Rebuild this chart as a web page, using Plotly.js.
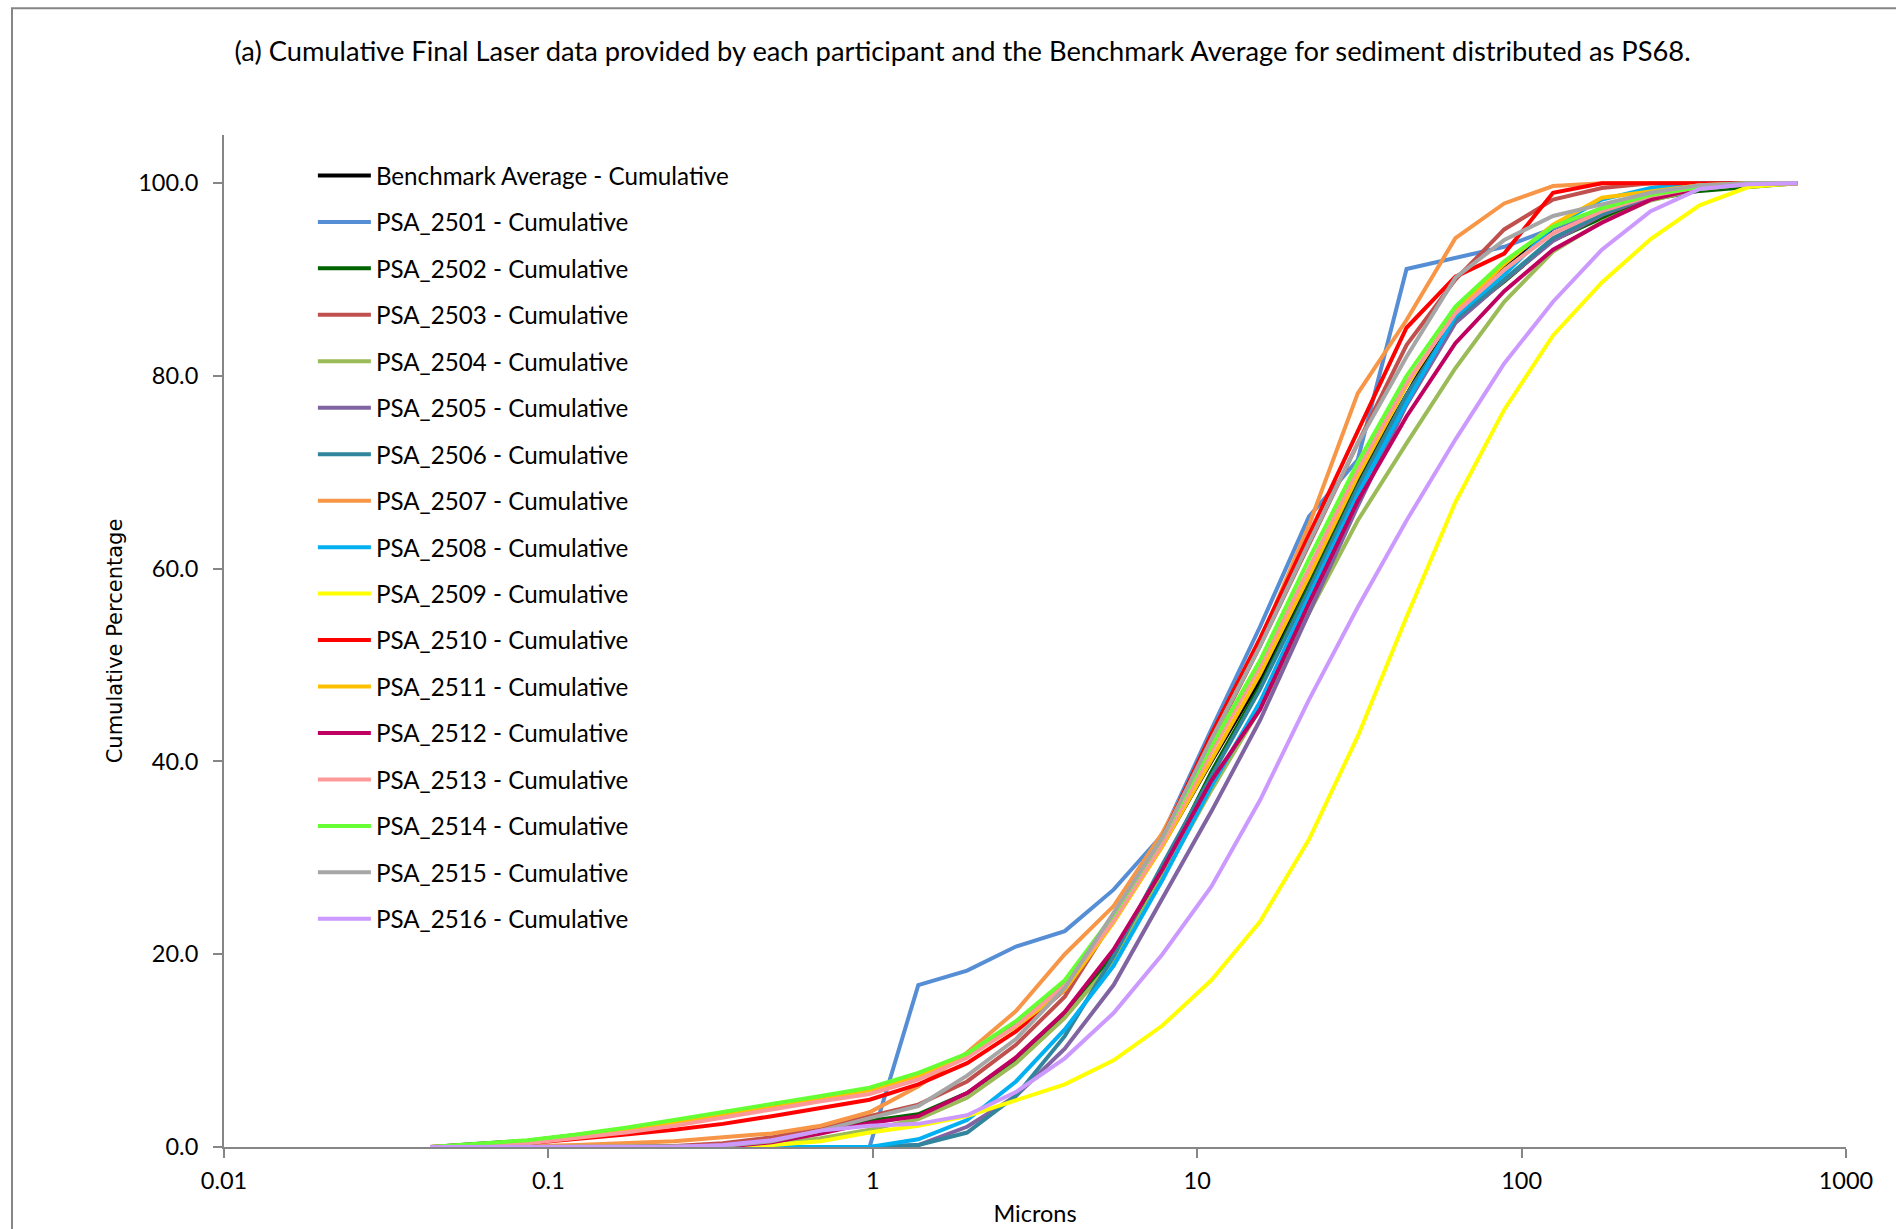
<!DOCTYPE html>
<html>
<head>
<meta charset="utf-8">
<script src="https://cdn.plot.ly/plotly-3.0.1.min.js"></script>
<style>
  html, body { margin: 0; padding: 0; background: #ffffff; }
  #chart { width: 1896px; height: 1229px; }
</style>
</head>
<body>
<div id="chart"></div>
<script>
// Particle size classes (microns), half-phi steps
const microns = [0.0432, 0.0610, 0.0863, 0.122, 0.173, 0.244, 0.345, 0.488, 0.691, 0.977,
                 1.381, 1.953, 2.762, 3.906, 5.524, 7.813, 11.05, 15.63, 22.10, 31.25,
                 44.19, 62.50, 88.39, 125.0, 176.8, 250.0, 353.6, 500.0, 707.1];

const seriesNames = ["Benchmark Average - Cumulative", "PSA_2501 - Cumulative", "PSA_2502 - Cumulative",
  "PSA_2503 - Cumulative", "PSA_2504 - Cumulative", "PSA_2505 - Cumulative", "PSA_2506 - Cumulative",
  "PSA_2507 - Cumulative", "PSA_2508 - Cumulative", "PSA_2509 - Cumulative", "PSA_2510 - Cumulative",
  "PSA_2511 - Cumulative", "PSA_2512 - Cumulative", "PSA_2513 - Cumulative", "PSA_2514 - Cumulative",
  "PSA_2515 - Cumulative", "PSA_2516 - Cumulative"];

const benchmark = [0, 0.3, 0.65, 1.25, 1.9, 2.7, 3.5, 4.4, 5.2, 6.0, 7.6, 9.6, 12.9, 17.0, 23.5, 31.3, 40.0, 48.5, 58.9, 69.3, 78.0, 86.9, 91.5, 95.3, 97.3, 98.6, 99.5, 99.9, 100];
const psa2501 = [0, 0, 0, 0, 0, 0, 0, 0, 0, 0, 16.8, 18.3, 20.8, 22.4, 26.7, 32.4, 43.3, 54.0, 65.4, 71.3, 91.1, 92.2, 93.4, 95.3, 97.4, 98.6, 99.4, 99.9, 100];
const psa2502 = [0, 0, 0, 0, 0, 0, 0.1, 0.6, 1.6, 2.7, 3.4, 5.6, 9.1, 13.6, 20.0, 28.8, 38.9, 47.8, 58.2, 68.6, 78.0, 85.8, 89.8, 94.1, 96.4, 98.3, 99.2, 99.6, 100];
const psa2503 = [0, 0, 0, 0, 0, 0.1, 0.4, 1.0, 2.0, 3.2, 4.4, 6.8, 10.6, 15.6, 23.6, 32.0, 42.0, 52.0, 62.5, 73.0, 83.2, 90.0, 95.2, 98.3, 99.5, 100, 100, 100, 100];
const psa2504 = [0, 0, 0, 0, 0, 0, 0, 0.3, 0.9, 1.8, 2.9, 5.1, 8.7, 13.4, 19.4, 28.0, 37.0, 45.5, 55.4, 65.0, 73.0, 80.8, 87.7, 92.9, 96.0, 98.2, 99.4, 99.9, 100];
const psa2505 = [0, 0, 0, 0, 0, 0, 0, 0, 0, 0, 0.2, 2.1, 5.3, 10.2, 16.8, 25.9, 34.8, 44.3, 55.5, 66.5, 77.0, 85.5, 89.9, 94.0, 96.7, 98.6, 99.6, 100, 100];
const psa2506 = [0, 0, 0, 0, 0, 0, 0, 0, 0, 0, 0.2, 1.5, 5.3, 11.5, 19.8, 29.3, 38.5, 47.5, 57.8, 68.4, 78.0, 85.9, 90.0, 94.3, 96.8, 98.8, 99.7, 100, 100];
const psa2507 = [0, 0, 0.07, 0.2, 0.4, 0.6, 1.0, 1.4, 2.2, 3.6, 6.3, 9.8, 14.1, 20.0, 25.0, 32.6, 42.0, 52.5, 64.5, 78.2, 85.8, 94.3, 97.9, 99.7, 100, 100, 100, 100, 100];
const psa2508 = [0, 0, 0, 0, 0, 0, 0, 0, 0, 0, 0.8, 2.8, 6.8, 12.2, 18.8, 27.7, 37.4, 46.2, 57.1, 67.7, 77.2, 86.2, 90.5, 95.5, 98.3, 99.5, 100, 100, 100];
const psa2509 = [0, 0, 0, 0, 0, 0, 0, 0.2, 0.6, 1.5, 2.2, 3.2, 4.8, 6.5, 9.0, 12.6, 17.3, 23.4, 31.9, 42.6, 55.0, 66.9, 76.5, 84.2, 89.7, 94.2, 97.7, 99.6, 100];
const psa2510 = [0, 0.1, 0.4, 0.8, 1.3, 1.8, 2.4, 3.2, 4.0, 4.9, 6.5, 8.7, 12.0, 16.3, 23.8, 32.1, 42.8, 52.8, 63.5, 74.2, 85.0, 90.3, 92.7, 99.0, 100, 100, 100, 100, 100];
const psa2511 = [0, 0.2, 0.5, 1.1, 1.7, 2.5, 3.3, 4.2, 5.0, 5.9, 7.4, 9.4, 12.5, 16.3, 23.3, 31.2, 40.2, 49.1, 59.2, 69.6, 79.0, 86.7, 91.6, 95.7, 98.5, 99.2, 99.8, 100, 100];
const psa2512 = [0, 0, 0, 0, 0, 0, 0, 0.5, 1.4, 2.5, 3.2, 5.6, 9.3, 14.0, 20.5, 28.8, 38.0, 45.4, 56.4, 67.0, 75.8, 83.4, 88.8, 93.1, 95.9, 98.3, 99.5, 100, 100];
const psa2513 = [0, 0.1, 0.4, 0.9, 1.5, 2.2, 3.0, 3.9, 4.75, 5.5, 7.0, 9.25, 12.6, 16.8, 23.5, 31.5, 41.0, 49.9, 60.0, 70.3, 79.3, 86.5, 91.0, 94.8, 97.1, 98.7, 99.6, 100, 100];
const psa2514 = [0, 0.35, 0.7, 1.3, 2.0, 2.8, 3.6, 4.5, 5.3, 6.15, 7.7, 9.7, 13.05, 17.3, 24.1, 32.1, 41.6, 50.5, 61.0, 71.0, 80.0, 87.2, 91.9, 95.5, 97.4, 98.8, 99.6, 100, 100];
const psa2515 = [0, 0, 0, 0, 0, 0, 0.1, 0.6, 1.7, 3.0, 4.25, 7.4, 11.2, 16.5, 24.3, 32.1, 42.3, 52.0, 62.7, 73.0, 82.0, 90.2, 94.1, 96.6, 97.8, 99.0, 99.8, 100, 100];
const psa2516 = [0, 0, 0, 0, 0, 0, 0.2, 0.7, 1.7, 2.2, 2.4, 3.3, 5.7, 9.2, 13.9, 20.0, 27.0, 36.0, 46.4, 56.0, 65.0, 73.4, 81.3, 87.7, 93.1, 97.1, 99.4, 99.9, 100];

const seriesValues = [benchmark, psa2501, psa2502, psa2503, psa2504, psa2505, psa2506, psa2507,
  psa2508, psa2509, psa2510, psa2511, psa2512, psa2513, psa2514, psa2515, psa2516];

const seriesColors = ["#000000", "#558ED5", "#006400", "#C0504D", "#9BBB59", "#8064A2", "#31859C",
  "#F79646", "#00B0F0", "#FFFF00", "#FF0000", "#FFC000", "#C00060", "#FF9999", "#66FF33",
  "#A6A6A6", "#CC99FF"];

const xTickVals = [0.01, 0.1, 1, 10, 100, 1000];
const xTickText = ["0.01", "0.1", "1", "10", "100", "1000"];

const baseFont = "Lato, 'Open Sans', sans-serif";

const traces = seriesNames.map((name, i) => ({
  type: "scatter",
  mode: "lines",
  name: name,
  legendgroup: "g" + i,
  x: microns,
  y: seriesValues[i],
  line: { color: seriesColors[i], width: 4 },
  hoverinfo: "x+y+name"
}));

const layout = {
  width: 1896,
  height: 1229,
  margin: { l: 224, r: 50, t: 135, b: 82 },
  paper_bgcolor: "#ffffff",
  plot_bgcolor: "#ffffff",
  font: { family: baseFont, size: 23.5, color: "#000000" },
  title: {
    text: "(a) Cumulative Final Laser data provided by each participant and the Benchmark Average for sediment distributed as PS68.",
    font: { family: baseFont, size: 27.3, color: "#000000" },
    xref: "container", x: 0.5077, xanchor: "center",
    yref: "container", y: 0.9585, yanchor: "middle"
  },
  xaxis: {
    type: "log",
    range: [-2, 3],
    tickvals: xTickVals,
    ticktext: xTickText,
    ticks: "outside",
    ticklen: 9,
    tickwidth: 2,
    tickcolor: "#868686",
    showline: true,
    linecolor: "#868686",
    linewidth: 2,
    showgrid: false,
    zeroline: false,
    ticklabelstandoff: 3,
    tickfont: { family: baseFont, size: 23.5, color: "#000000" },
    title: { text: "Microns", font: { family: baseFont, size: 23.5, color: "#000000" }, standoff: 12 },
    automargin: false
  },
  yaxis: {
    range: [0, 105],
    dtick: 20,
    tick0: 0,
    tickformat: ".1f",
    ticks: "outside",
    ticklen: 9,
    tickwidth: 2,
    tickcolor: "#868686",
    showline: true,
    linecolor: "#868686",
    linewidth: 2,
    showgrid: false,
    zeroline: false,
    ticklabelstandoff: 10,
    tickfont: { family: baseFont, size: 23.5, color: "#000000" },
    title: { text: "Cumulative Percentage", font: { family: "'DejaVu Sans', sans-serif", size: 21, color: "#000000" }, standoff: 10 },
    automargin: false
  },
  showlegend: true,
  legend: {
    x: 0.0548, xanchor: "left",
    y: 0.982, yanchor: "top",
    traceorder: "grouped",
    tracegroupgap: 12,
    itemwidth: 53,
    bgcolor: "rgba(0,0,0,0)",
    borderwidth: 0,
    font: { family: baseFont, size: 24.2, color: "#000000" }
  },
  shapes: [
    {
      type: "rect", xref: "paper", yref: "paper",
      x0: -0.1307, x1: 1.2, y0: -0.3, y1: 1.1253,
      line: { color: "#868686", width: 2 },
      fillcolor: "rgba(0,0,0,0)",
      layer: "below"
    }
  ]
};

Plotly.newPlot("chart", traces, layout, { displayModeBar: false, staticPlot: true });
</script>
</body>
</html>
